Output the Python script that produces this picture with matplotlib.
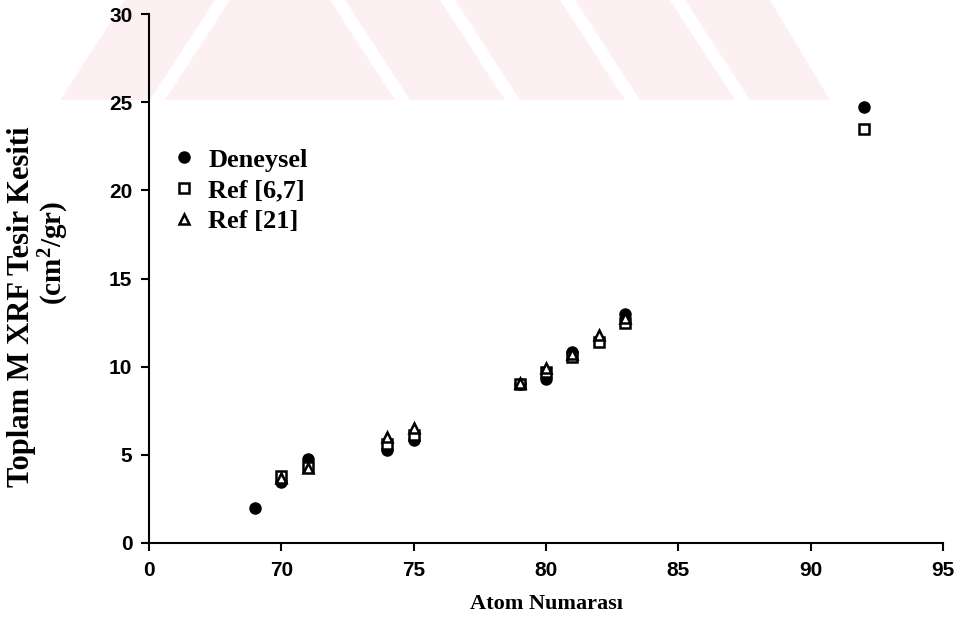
import matplotlib
matplotlib.use("Agg")
import matplotlib.pyplot as plt
from matplotlib.patches import Polygon

plt.rcParams["mathtext.default"] = "regular"

# atom numaralari ve toplam M XRF tesir kesitleri (cm^2/gr)
z_deney = [69, 70, 71, 74, 75, 79, 80, 81, 83, 92]
deneysel = [2.0, 3.45, 4.75, 5.3, 5.85, 9.0, 9.3, 10.85, 13.0, 24.7]

z_ref67 = [70, 71, 74, 75, 79, 80, 81, 82, 83, 92]
ref67 = [3.8, 4.3, 5.6, 6.1, 9.0, 9.7, 10.55, 11.4, 12.45, 23.45]

z_ref21 = [70, 71, 74, 75, 79, 80, 81, 82, 83]
ref21 = [3.7, 4.25, 6.0, 6.5, 9.1, 9.95, 10.7, 11.8, 12.75]

x_ticks = [65, 70, 75, 80, 85, 90, 95]
x_labels = ["0", "70", "75", "80", "85", "90", "95"]
y_ticks = [0, 5, 10, 15, 20, 25, 30]

W, H = 965, 631
fig = plt.figure(figsize=(W / 100, H / 100), dpi=100)

# soluk pembe filigran (ust kisim)
pink = "#fdf0f2"
def px(pts):
    return [(x / W, 1 - y / H) for x, y in pts]
bands = [
    [(60, 100), (125, 0), (215, 0), (150, 100)],
    [(165, 100), (230, 0), (330, 0), (395, 100)],
    [(410, 100), (345, 0), (440, 0), (505, 100)],
    [(520, 100), (455, 0), (560, 0), (625, 100)],
    [(640, 100), (575, 0), (670, 0), (735, 100)],
    [(750, 100), (685, 0), (770, 0), (830, 100)],
]
for b in bands:
    fig.patches.append(Polygon(px(b), closed=True, transform=fig.transFigure,
                               facecolor=pink, edgecolor="none", zorder=0))

ax = fig.add_axes([149 / W, 1 - 543 / H, (943 - 149) / W, (543 - 14) / H])
ax.patch.set_alpha(0)
ax.set_zorder(2)

ax.plot(z_deney, deneysel, "o", color="black", markersize=8, label="Deneysel", zorder=3)
ax.plot(z_ref67, ref67, "s", color="black", markerfacecolor="white",
        markeredgewidth=1.8, markersize=7, label="Ref [6,7]", zorder=4)
ax.plot(z_ref21, ref21, "^", color="black", markerfacecolor="white",
        markeredgewidth=1.8, markersize=7, label="Ref [21]", zorder=5)

ax.set_xlim(65, 95)
ax.set_ylim(0, 30)
ax.set_xticks(x_ticks)
ax.set_xticklabels(x_labels)
ax.set_yticks(y_ticks)

for s in ["top", "right"]:
    ax.spines[s].set_visible(False)
for s in ["left", "bottom"]:
    ax.spines[s].set_linewidth(1.5)
ax.tick_params(direction="out", length=6, width=1.5)
ax.tick_params(axis="x", pad=7)
ax.tick_params(axis="y", pad=6)
for lab in ax.get_xticklabels() + ax.get_yticklabels():
    lab.set_fontfamily("Liberation Sans")
    lab.set_fontweight("bold")
    lab.set_fontsize(15)

ax.set_xlabel("Atom Numarası", family="Liberation Serif", weight="bold",
              size=16, labelpad=10)

# y ekseni basligi iki ayri satir halinde
ylab = dict(family="Liberation Serif", weight="bold",
            rotation=90, ha="center", va="center")
fig.text(22 / W, 1 - 307 / H, "Toplam M XRF Tesir Kesiti", size=22, **ylab)
fig.text(54 / W, 1 - 253 / H, "(cm$^2$/gr)", size=21, **ylab)

ax.legend(loc="upper left", bbox_to_anchor=(158 / W, 1 - 135 / H),
          bbox_transform=fig.transFigure, frameon=False,
          prop={"family": "Liberation Serif", "weight": "bold", "size": 19},
          handletextpad=0.4, labelspacing=0.28, handlelength=1.0,
          borderpad=0)

fig.savefig("out.png", dpi=100)
